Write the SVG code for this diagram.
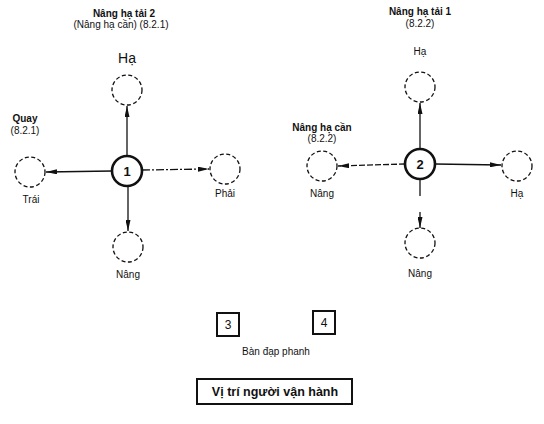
<svg xmlns="http://www.w3.org/2000/svg" width="544" height="424" viewBox="0 0 544 424">
<defs>
<marker id="ah" viewBox="0 0 11 5" refX="11" refY="2.5" markerWidth="11" markerHeight="5" markerUnits="userSpaceOnUse" orient="auto">
<path d="M0,0 L11,2.5 L0,5 Z" fill="#111"/>
</marker>
<style>
text{font-family:"Liberation Sans",Arial,sans-serif;fill:#111;text-anchor:middle}
.b{font-weight:bold;font-size:10px}
.r{font-size:10px}
.big{font-size:14px}
.main{fill:#fff;stroke:#111;stroke-width:2.6}
.ghost{fill:none;stroke:#111;stroke-width:1.3;stroke-dasharray:4 2.5}
.ln{fill:none;stroke:#111;stroke-width:1.3}
.dash{stroke-dasharray:6 2}
.dd{stroke-dasharray:8 2 2 2}
.box{fill:#fff;stroke:#111;stroke-width:2}
</style>
</defs>
<g id="connectors">
<line class="ln" x1="127" y1="156" x2="127" y2="106" marker-end="url(#ah)"/>
<line class="ln" x1="112" y1="171" x2="46" y2="172" marker-end="url(#ah)"/>
<line class="ln dd" x1="142" y1="170" x2="209" y2="169" marker-end="url(#ah)"/>
<line class="ln" x1="128" y1="186" x2="128" y2="231" marker-end="url(#ah)"/>
<line class="ln" x1="420" y1="149" x2="420" y2="103" marker-end="url(#ah)"/>
<line class="ln dash" x1="405" y1="164" x2="338" y2="166" marker-end="url(#ah)"/>
<line class="ln" x1="435" y1="164" x2="501" y2="165" marker-end="url(#ah)"/>
<line class="ln" x1="420" y1="179" x2="420" y2="196"/>
<line class="ln" x1="420" y1="212" x2="420" y2="228" marker-end="url(#ah)"/>
</g>
<g id="title1"><text class="b" x="124" y="17">Nâng hạ tải 2</text><text class="r" x="121" y="28">(Nâng hạ cần) (8.2.1)</text></g>
<g id="n1"><circle class="main" cx="127" cy="171" r="15"/><text x="127" y="176" style="font-size:13px;font-weight:bold">1</text></g>
<g id="n1-up"><circle class="ghost" cx="127" cy="90" r="15"/><text class="big" x="127" y="63">Hạ</text></g>
<g id="n1-left"><circle class="ghost" cx="30" cy="172" r="15"/><text class="r" x="31" y="203">Trái</text><text class="b" x="25" y="122">Quay</text><text class="r" x="25" y="134">(8.2.1)</text></g>
<g id="n1-right"><circle class="ghost" cx="225" cy="169" r="15"/><text class="r" x="225" y="197">Phải</text></g>
<g id="n1-down"><circle class="ghost" cx="128" cy="247" r="15"/><text class="r" x="128" y="278">Nâng</text></g>
<g id="title2"><text class="b" x="420" y="15">Nâng hạ tải 1</text><text class="r" x="420" y="27">(8.2.2)</text></g>
<g id="n2"><circle class="main" cx="420" cy="164" r="15"/><text x="420" y="169" style="font-size:13px;font-weight:bold">2</text></g>
<g id="n2-up"><circle class="ghost" cx="420" cy="87" r="15"/><text class="r" x="420" y="55">Hạ</text></g>
<g id="n2-left"><circle class="ghost" cx="322" cy="166" r="15"/><text class="r" x="322" y="197">Nâng</text><text class="b" x="322" y="131">Nâng hạ cần</text><text class="r" x="322" y="142">(8.2.2)</text></g>
<g id="n2-right"><circle class="ghost" cx="517" cy="166" r="15"/><text class="r" x="517" y="197">Hạ</text></g>
<g id="n2-down"><circle class="ghost" cx="420" cy="243" r="15"/><text class="r" x="420" y="277">Nâng</text></g>
<g id="b3"><rect class="box" x="217" y="313" width="22" height="23"/><text x="228" y="329" style="font-size:12px">3</text></g>
<g id="b4"><rect class="box" x="313" y="311" width="22" height="23"/><text x="324" y="327" style="font-size:12px">4</text></g>
<g id="pedal"><text class="r" x="276" y="355">Bàn đạp phanh</text></g>
<g id="operator"><rect class="box" x="197" y="379" width="155" height="25"/><text x="275" y="396" style="font-size:12.5px;font-weight:bold">Vị trí người vận hành</text></g>
</svg>
